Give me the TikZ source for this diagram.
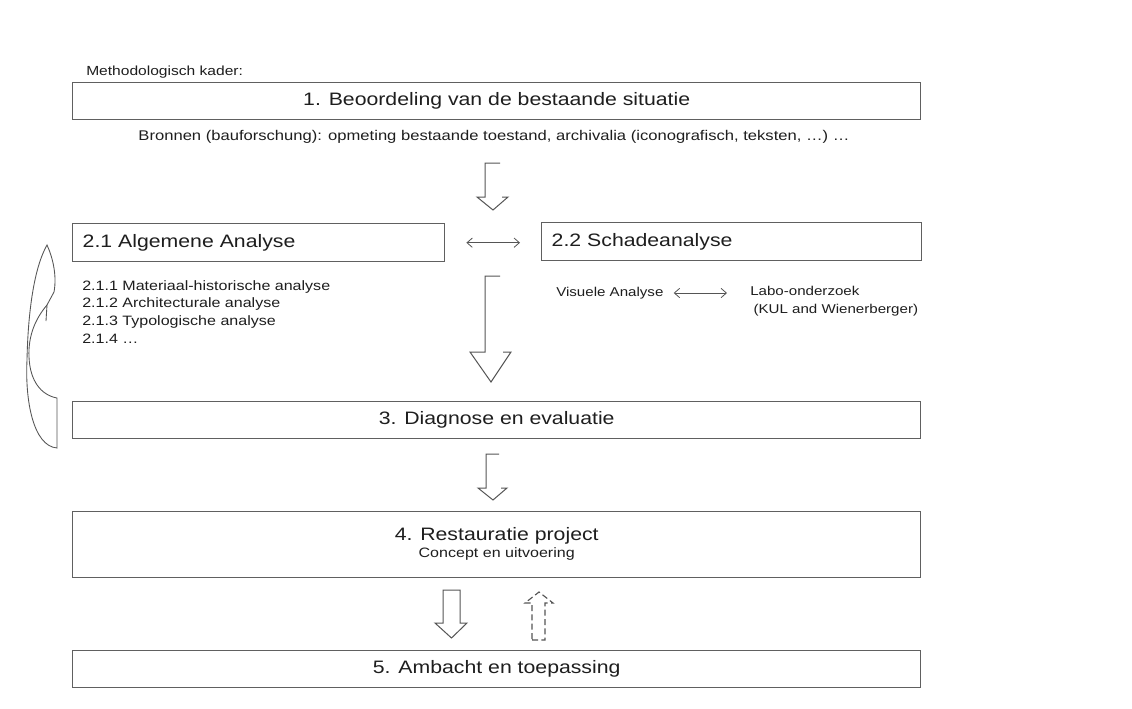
\documentclass[tikz,border=0pt]{standalone}
\usepackage{fontspec}
\setmainfont{Liberation Sans}[FakeStretch=1.18]
\usetikzlibrary{arrows.meta}
\definecolor{ln}{HTML}{555555}
\definecolor{bx}{HTML}{606060}
\definecolor{tx}{HTML}{1E1E1E}
\newcommand{\bigf}{\fontsize{13.5pt}{16pt}\selectfont}
\newcommand{\smf}{\fontsize{9.6pt}{13.1pt}\selectfont}
\newcommand{\lstf}{\fontsize{10.2pt}{13.3pt}\selectfont}
\newcommand{\brf}{\fontsize{10.55pt}{13pt}\selectfont}
\newcommand{\kadf}{\fontsize{9.9pt}{12pt}\selectfont}
\begin{document}
\begin{tikzpicture}[x=0.75pt,y=-0.75pt,
  every node/.style={text=tx},
  wbox/.style={draw=bx, line width=1.05pt, anchor=north west, minimum width=848*0.75pt, minimum height=37*0.75pt, inner sep=0pt, align=center, font=\bigf},
  hbox/.style={draw=bx, line width=1.05pt, anchor=north west, minimum height=38*0.75pt, inner xsep=10*0.75pt, inner ysep=0pt, align=left, font=\bigf},
  small/.style={font=\smf, inner sep=0pt},
  blk/.style={draw=ln, line width=0.75pt, line join=miter},
  dbl/.style={draw=ln, line width=0.6pt, {Straight Barb[length=4pt,width=7pt]}-{Straight Barb[length=4pt,width=7pt]}},
]
\useasboundingbox (0,0) rectangle (1132,708);
\fill[white] (0,0) rectangle (1132,708);

% title
\node[font=\kadf, inner sep=0pt, anchor=west] (kader) at (86,72) {Methodologisch kader:};

% box 1
\node[wbox] (b1) at (72,82) {1. Beoordeling van de bestaande situatie};
\node[font=\brf, inner sep=0pt] (bron) at (494,137) {Bronnen (bauforschung): opmeting bestaande toestand, archivalia (iconografisch, teksten, …) …};

% arrow 1 (open shaft)
\draw[blk] (500,163) -- (485,163) -- (485,197) -- (477,197) -- (493,210) -- (508,197) -- (502,197);

% boxes 2.1 and 2.2
\node[hbox, minimum width=372*0.75pt, text width=352*0.75pt] (b21) at (72,223) {2.1 Algemene Analyse};
\node[hbox, minimum width=380*0.75pt, text width=360*0.75pt] (b22) at (541,222) {2.2 Schadeanalyse};
\draw[dbl] ([xshift=21*0.75pt]b21.east) -- ([xshift=-21*0.75pt]b22.west |- b21.east);

% list under 2.1
\node[font=\lstf, inner sep=0pt, anchor=north west, align=left] (lst) at (82,280) {2.1.1 Materiaal-historische analyse\\2.1.2 Architecturale analyse\\2.1.3 Typologische analyse\\2.1.4 …};

% under 2.2
\node[small, anchor=west] (vis) at (556,293) {Visuele Analyse};
\node[small, anchor=north west, align=left] (labo) at (750,286) {Labo-onderzoek\\\hspace*{2.5pt}(KUL and Wienerberger)};
\draw[dbl] ([xshift=10*0.75pt]vis.east) -- ([xshift=-23*0.75pt]vis.east -| labo.west);

% arrow 2 (long, open shaft)
\draw[blk] (500,276) -- (485,276) -- (485,352) -- (470,352) -- (491,382) -- (511,352) -- (503,352);

% curved arrow on the left
\draw[blk, line width=0.65pt] (57,448) .. controls (33,446) and (25,400) .. (27,360)
  .. controls (28,312) and (34,268) .. (47,245)
  .. controls (53,258) and (57,276) .. (54,292) -- (47,305)
  .. controls (36,318) and (28,335) .. (29,357)
  .. controls (30,381) and (41,395) .. (57,398) -- cycle;
\draw[blk, line width=0.65pt] (47,305) -- (46,321);

% box 3
\node[wbox] (b3) at (72,401) {3. Diagnose en evaluatie};

% arrow 3
\draw[blk] (499,454) -- (486,454) -- (486,488) -- (478,488) -- (493,500) -- (507,488) -- (501,488);

% box 4
\node[wbox, minimum height=66*0.75pt] (b4) at (72,511) {\raisebox{5pt}{\begin{tabular}{@{}c@{}}4. Restauratie project\\[-3pt]{\lstf Concept en uitvoering}\end{tabular}}};

% arrow 4 down (closed)
\draw[blk] (443,590) -- (460,590) -- (460,623) -- (467,623) -- (451.5,638) -- (435,623) -- (443,623) -- cycle;
% dashed arrow up
\draw[blk, line width=0.85pt, dash pattern=on 4.5pt off 2.5pt] (532,640) -- (545,640) -- (545,603) -- (553,603) -- (539,592) -- (525,603) -- (532,603) -- cycle;

% box 5
\node[wbox] (b5) at (72,650) {5. Ambacht en toepassing};
\end{tikzpicture}
\end{document}
